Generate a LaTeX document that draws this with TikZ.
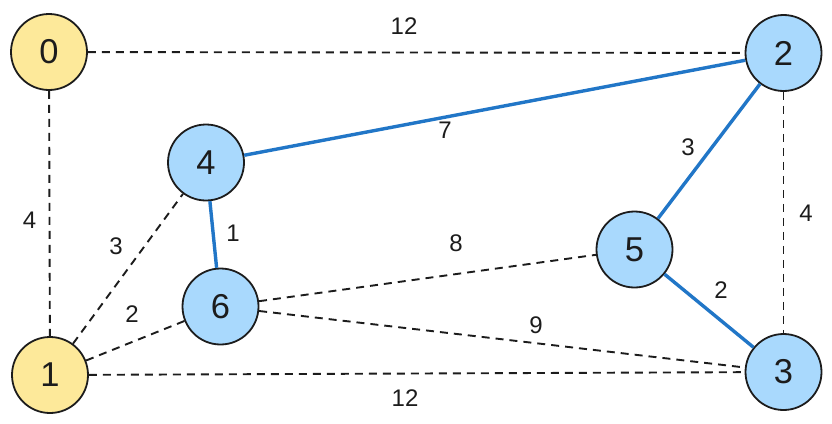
\documentclass[tikz,border=0pt]{standalone}
\usepackage{fontspec}
\setmainfont{Liberation Sans}
\definecolor{yelfill}{HTML}{FDE99A}
\definecolor{blufill}{HTML}{A9D9FD}
\definecolor{treeblue}{HTML}{2176C7}
\definecolor{ink}{HTML}{1C1C1C}
\begin{document}
\begin{tikzpicture}[x=1pt,y=-1pt,
  vtx/.style={circle,draw=ink,line width=1.8pt,minimum size=76pt,inner sep=0pt,font=\fontsize{34.5}{34.5}\selectfont,text=ink},
  ylw/.style={vtx,fill=yelfill},
  blu/.style={vtx,fill=blufill},
  dsh/.style={draw=ink,line width=1.9pt,dash pattern=on 8pt off 6pt},
  tree/.style={draw=treeblue,line width=3.4pt},
  lbl/.style={font=\fontsize{24}{24}\selectfont,text=ink,inner sep=0pt}]
\useasboundingbox (0,0) rectangle (832,423);
\node[ylw] (n0) at (49,52) {0};
\node[ylw] (n1) at (50,375) {1};
\node[blu] (n2) at (783.5,53) {2};
\node[blu] (n3) at (783.5,372) {3};
\node[blu] (n4) at (206,162.5) {4};
\node[blu] (n5) at (634.5,249.5) {5};
\node[blu] (n6) at (220.5,306.5) {6};
\draw[dsh] (n0) -- (n2);
\draw[dsh] (n0) -- (n1);
\draw[dsh] (n2) -- (n3);
\draw[dsh] (n1) -- (n3);
\draw[dsh] (n1) -- (n4);
\draw[dsh] (n1) -- (n6);
\draw[dsh] (n6) -- (n5);
\draw[dsh] (n6) -- (n3);
\draw[tree] (n4) -- (n2);
\draw[tree] (n4) -- (n6);
\draw[tree] (n2) -- (n5);
\draw[tree] (n5) -- (n3);
\node[lbl] (l02) at (404,26) {12};
\node[lbl] (l13) at (405,398) {12};
\node[lbl] (l01) at (29.5,220) {4};
\node[lbl] (l23) at (806,213) {4};
\node[lbl] (l42) at (445,130) {7};
\node[lbl] (l25) at (688,147) {3};
\node[lbl] (l14) at (116,246) {3};
\node[lbl] (l46) at (233,233) {1};
\node[lbl] (l65) at (456,243) {8};
\node[lbl] (l16) at (132,314) {2};
\node[lbl] (l53) at (721,290) {2};
\node[lbl] (l63) at (536,325) {9};
\end{tikzpicture}
\end{document}
